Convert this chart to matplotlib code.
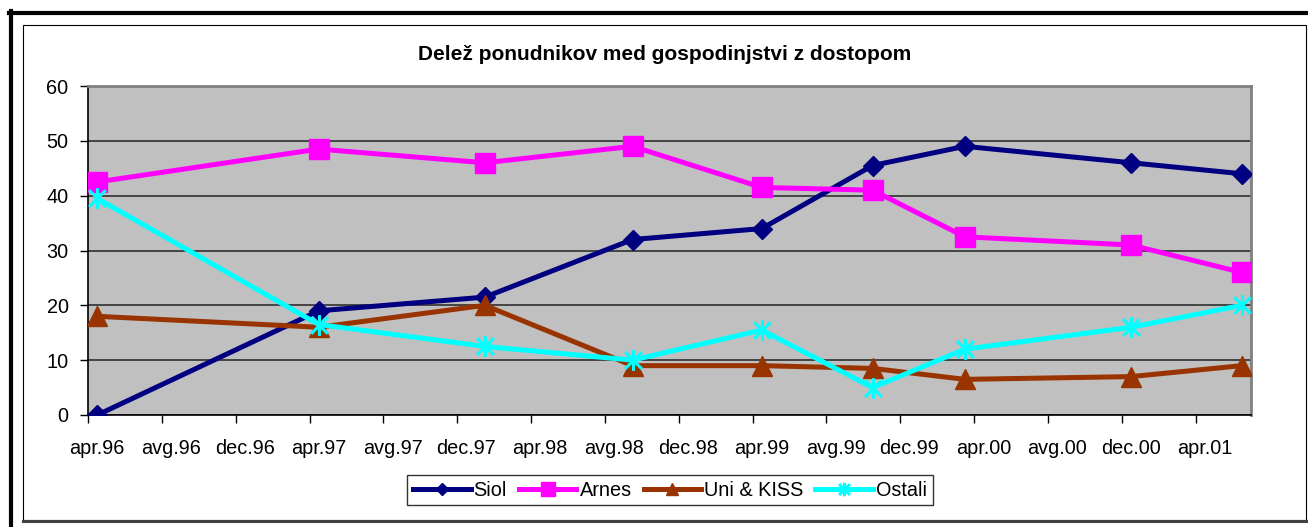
import pandas as pd
import matplotlib.pyplot as plt
from matplotlib.lines import Line2D
from matplotlib.patches import Rectangle
from matplotlib.path import Path

plt.rcParams['font.family'] = ['Liberation Sans', 'DejaVu Sans']

# data points (month of survey)
datumi = ['1996-04', '1997-04', '1998-01', '1998-09', '1999-04',
          '1999-10', '2000-03', '2000-12', '2001-06']
siol = [0, 19, 21.5, 32, 34, 45.5, 49, 46, 44]
arnes = [42.5, 48.5, 46, 49, 41.5, 41, 32.5, 31, 26]
uni_kiss = [18, 16, 20, 9, 9, 8.5, 6.5, 7, 9]
ostali = [39.5, 16.5, 12.5, 10, 15.5, 5, 12, 16, 20]

oznake = ['apr.96', 'avg.96', 'dec.96', 'apr.97', 'avg.97', 'dec.97', 'apr.98', 'avg.98',
          'dec.98', 'apr.99', 'avg.99', 'dec.99', 'apr.00', 'avg.00', 'dec.00', 'apr.01']

zacetek = pd.Period('1996-04', freq='M')
x = [(pd.Period(d, freq='M') - zacetek).n for d in datumi]

W, H = 1308, 527
fig = plt.figure(figsize=(W / 100, H / 100), dpi=100)
ax = fig.add_axes([88 / W, 1 - 415 / H, (1251 - 88) / W, (415 - 86) / H])
ax.set_facecolor('#C0C0C0')

# excel star marker: vertical bar + X
zvezda = Path([(0, -1), (0, 1), (-0.8, -0.8), (0.8, 0.8), (-0.8, 0.8), (0.8, -0.8)],
              [Path.MOVETO, Path.LINETO, Path.MOVETO, Path.LINETO, Path.MOVETO, Path.LINETO])

lw = 3.6
ax.plot(x, siol, color='#000080', lw=lw, marker='D', ms=10, label='Siol', zorder=3)
ax.plot(x, arnes, color='#FF00FF', lw=lw, marker='s', ms=15, label='Arnes', zorder=3)
ax.plot(x, uni_kiss, color='#993300', lw=lw, marker='^', ms=14, label='Uni & KISS', zorder=3)
ax.plot(x, ostali, color='#00FFFF', lw=lw, marker=zvezda, ms=15, mew=2.2,
        label='Ostali', zorder=3)

ax.set_ylim(0, 60)
ax.set_yticks(range(0, 61, 10))
ax.set_xlim(-0.5, 62.5)
ax.set_xticks([i - 0.5 for i in range(0, 63, 4)])
ax.set_xticklabels([])
ax.set_xticks(list(range(0, 61, 4)), minor=True)
ax.set_xticklabels(oznake, minor=True)
ax.tick_params(axis='x', which='minor', length=0, pad=17, labelsize=14.3)
ax.tick_params(axis='x', which='major', length=6, width=1, direction='out')
ax.tick_params(axis='y', length=6, width=1, direction='out', pad=8, labelsize=14.3)
ax.grid(axis='y', color='#3a3a3a', lw=1.3)
ax.set_axisbelow(True)

for s in ['top', 'right']:
    ax.spines[s].set_color('#808080')
    ax.spines[s].set_linewidth(2)
for s in ['left', 'bottom']:
    ax.spines[s].set_color('black')
    ax.spines[s].set_linewidth(1.2)

fig.text(665 / W, 1 - 55 / H, 'Delež ponudnikov med gospodinjstvi z dostopom',
         ha='center', va='center', fontsize=15, fontweight='bold')

leg = fig.legend(loc='center', bbox_to_anchor=(670 / W, 1 - 490 / H), ncol=4,
                 fontsize=14.3, frameon=True, fancybox=False, edgecolor='black',
                 handlelength=2.9, handletextpad=0.15, columnspacing=0.6,
                 borderpad=0.3, borderaxespad=0, markerscale=0.65)
leg.get_frame().set_linewidth(1)

# frames around the chart
fig.add_artist(Rectangle((23 / W, 1 - 520 / H), (1306 - 23) / W, (520 - 25) / H,
                         transform=fig.transFigure, fill=False, ec='black', lw=0.8))
fig.add_artist(Line2D([23 / W, 1], [1 - 521 / H, 1 - 521 / H], transform=fig.transFigure,
                      color='#404040', lw=2.2))
fig.add_artist(Line2D([9 / W, 1], [1 - 13 / H, 1 - 13 / H], transform=fig.transFigure,
                      color='black', lw=3))
fig.add_artist(Line2D([11 / W, 11 / W], [1 - 11 / H, 0], transform=fig.transFigure,
                      color='black', lw=3))

plt.savefig('out.png', dpi=100)
